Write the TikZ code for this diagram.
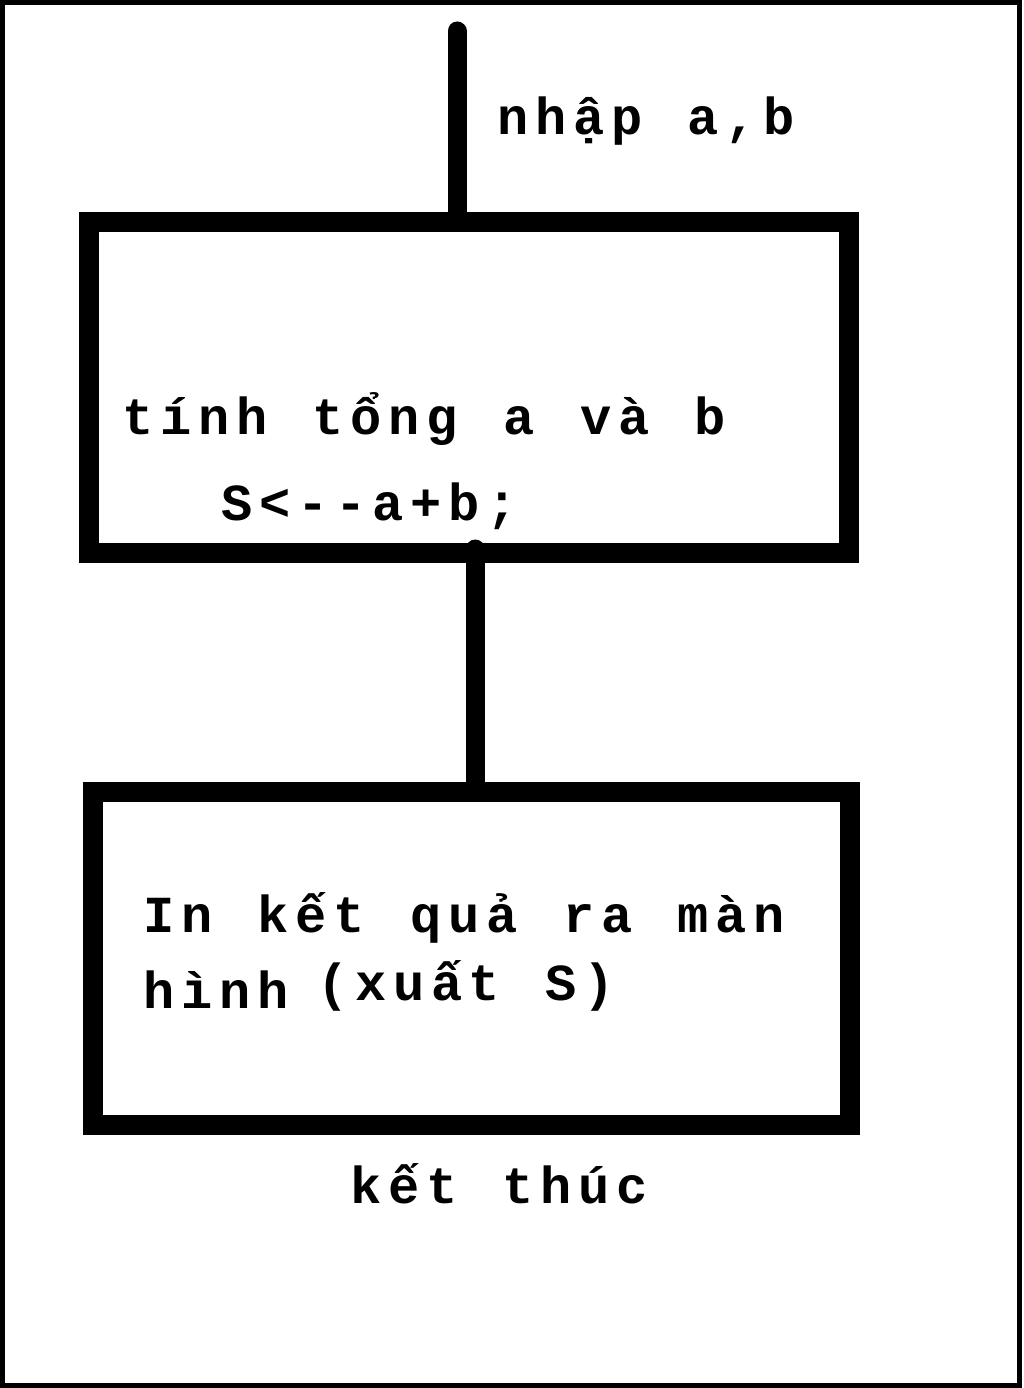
\documentclass[tikz,border=0pt]{standalone}
\usepackage{fontspec}
\newfontfamily\paintfont{Liberation Mono Bold}[LetterSpace=13, WordSpace=1.2]
\usetikzlibrary{positioning, calc}

\begin{document}
\begin{tikzpicture}[x=1pt, y=-1pt,
    flowbox/.style={draw, line width=20pt, inner sep=0pt},
    txt/.style={inner sep=0pt, anchor=base west, font=\paintfont\fontsize{52}{60}\selectfont},
    conn/.style={line width=19pt, line cap=round}
    ]
    \useasboundingbox (0,0) rectangle (1024,1388);
    \draw[line width=5pt] (2.5,2.5) rectangle (1019.5,1385.5);

    \node[flowbox, minimum width=760pt, minimum height=331pt] (tong) at (469,387.5) {};
    \node[flowbox, minimum width=757pt, minimum height=333pt] (xuat) at (471.5,958.5) {};

    \coordinate (start) at (457,31);
    \coordinate (mid) at (475,549);
    \draw[conn] (start) -- (start |- tong.north);
    \draw[conn] (mid) -- (mid |- xuat.north);

    \node[txt] (nhap) at (497,135) {nhập a,b};
    \node[txt] (tongtxt) at (122,434) {tính tổng a và b};
    \node[txt] (gan) at (221,520) {S<-{}-a+b;};
    \node[txt] (inkq) at (143,932) {In kết quả ra màn};
    \node[txt] (hinh) at (143,1008) {hình};
    \node[txt] (xuats) at (317,1000) {(xuất S)};
    \node[txt] (ketthuc) at (350,1203) {kết thúc};
\end{tikzpicture}
\end{document}
